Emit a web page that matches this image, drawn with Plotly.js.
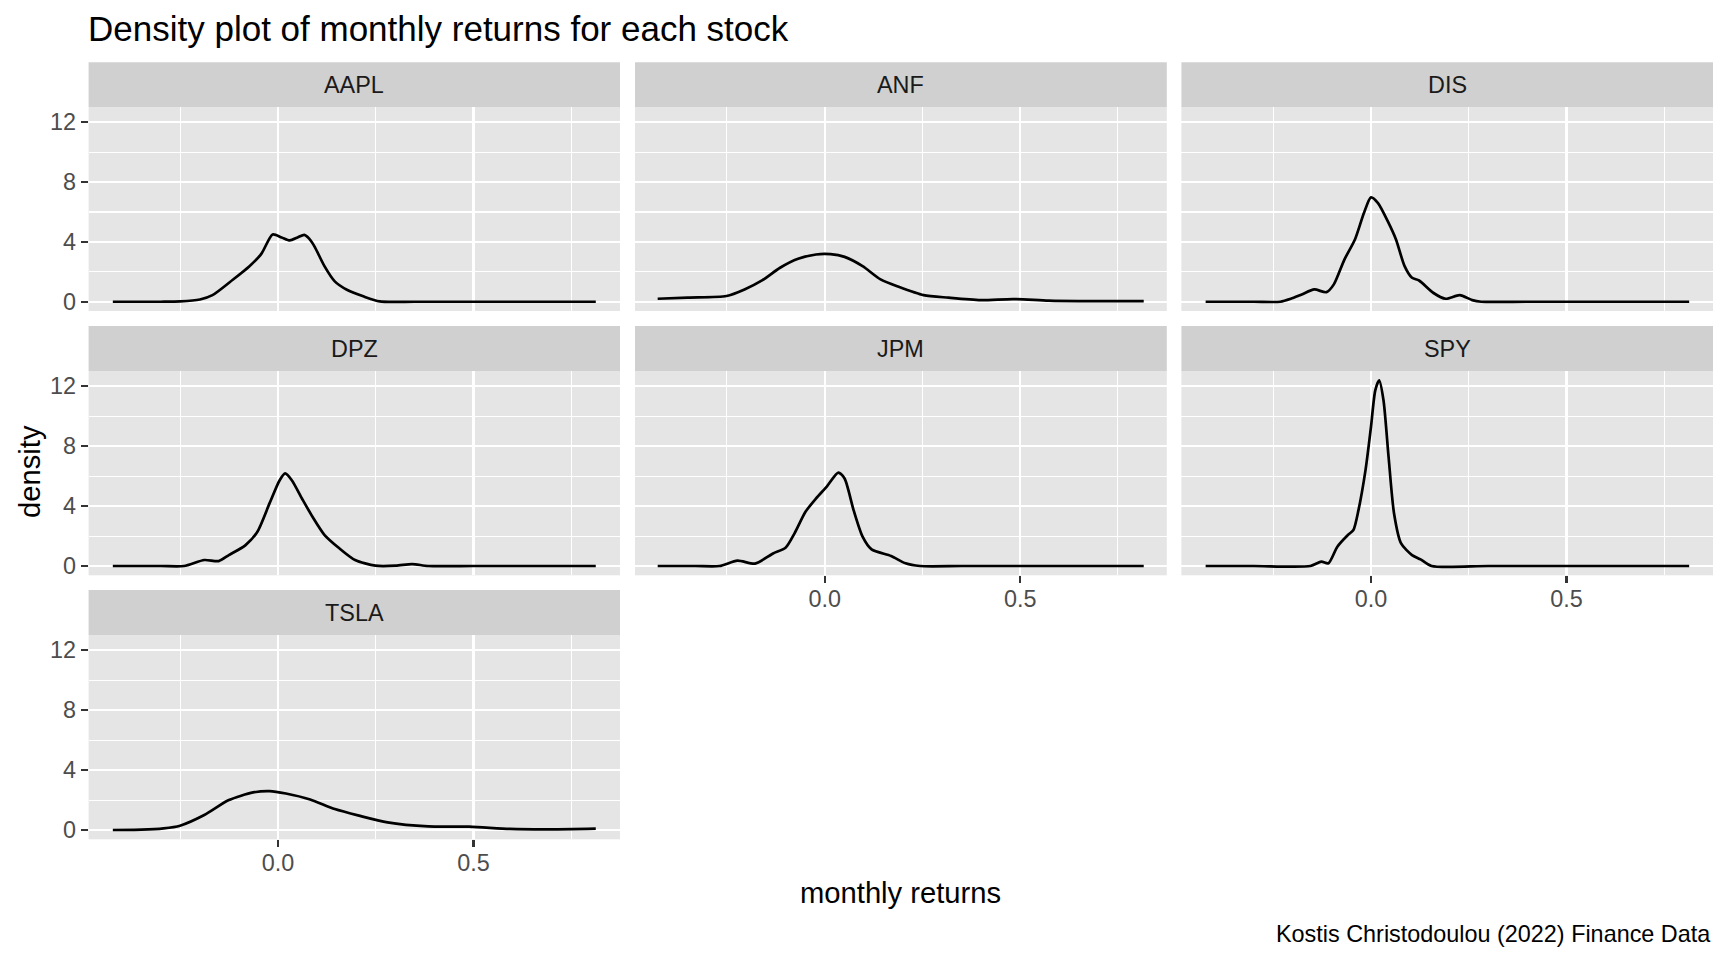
<!DOCTYPE html>
<html>
<head>
<meta charset="utf-8">
<script src="https://cdn.plot.ly/plotly-3.0.1.min.js"></script>
<style>html,body{margin:0;padding:0;background:#fff;}#chart{width:1728px;height:960px;}</style>
</head>
<body>
<div id="chart"></div>
<script>
// ---- data ----
const stocks = ["AAPL", "ANF", "DIS", "DPZ", "JPM", "SPY", "TSLA"];

const aaplX = [-0.423, -0.30, -0.25, -0.20, -0.168, -0.116, -0.074, -0.043, -0.014, 0.009, 0.030, 0.050, 0.067, 0.080, 0.093, 0.119, 0.145, 0.176, 0.218, 0.260, 0.35, 0.50, 0.65, 0.813];
const aaplY = [0, 0, 0.02, 0.15, 0.44, 1.47, 2.36, 3.2, 4.5, 4.3, 4.1, 4.3, 4.47, 4.2, 3.7, 2.36, 1.36, 0.8, 0.36, 0.02, 0, 0, 0, 0];

const anfX = [-0.427, -0.35, -0.251, -0.205, -0.159, -0.114, -0.068, -0.022, 0.015, 0.051, 0.097, 0.143, 0.189, 0.253, 0.317, 0.399, 0.482, 0.573, 0.665, 0.816];
const anfY = [0.2, 0.28, 0.38, 0.82, 1.44, 2.27, 2.87, 3.16, 3.18, 3.0, 2.38, 1.49, 1.0, 0.44, 0.27, 0.11, 0.18, 0.07, 0.04, 0.04];

const disX = [-0.423, -0.30, -0.232, -0.205, -0.177, -0.145, -0.114, -0.095, -0.068, -0.041, -0.018, 0.0, 0.018, 0.045, 0.064, 0.086, 0.105, 0.123, 0.159, 0.191, 0.227, 0.259, 0.282, 0.40, 0.60, 0.814];
const disY = [0, 0, 0, 0.2, 0.49, 0.82, 0.64, 1.16, 2.82, 4.16, 5.93, 6.98, 6.6, 5.27, 4.16, 2.38, 1.6, 1.42, 0.6, 0.2, 0.44, 0.11, 0, 0, 0, 0];

const dpzX = [-0.423, -0.30, -0.241, -0.189, -0.152, -0.126, -0.084, -0.053, -0.022, 0.004, 0.018, 0.035, 0.061, 0.088, 0.119, 0.155, 0.197, 0.249, 0.301, 0.343, 0.384, 0.50, 0.65, 0.813];
const dpzY = [0, 0, 0, 0.4, 0.33, 0.73, 1.38, 2.29, 4.18, 5.73, 6.18, 5.73, 4.51, 3.29, 2.07, 1.22, 0.4, 0.02, 0.02, 0.13, 0, 0, 0, 0];

const jpmX = [-0.427, -0.33, -0.269, -0.223, -0.178, -0.132, -0.100, -0.077, -0.049, -0.022, 0.005, 0.035, 0.051, 0.074, 0.097, 0.120, 0.170, 0.207, 0.244, 0.35, 0.50, 0.65, 0.816];
const jpmY = [0, 0, 0, 0.36, 0.16, 0.84, 1.22, 2.18, 3.62, 4.51, 5.29, 6.24, 5.84, 3.73, 1.96, 1.11, 0.67, 0.18, 0, 0, 0, 0, 0];

const spyX = [-0.423, -0.30, -0.155, -0.127, -0.109, -0.086, -0.059, -0.045, -0.032, -0.014, 0.0, 0.011, 0.021, 0.032, 0.045, 0.059, 0.077, 0.105, 0.127, 0.155, 0.30, 0.50, 0.65, 0.814];
const spyY = [0, 0, 0, 0.29, 0.18, 1.29, 2.07, 2.4, 3.73, 6.4, 9.29, 11.73, 12.4, 11.07, 7.29, 3.51, 1.51, 0.73, 0.44, 0, 0, 0, 0, 0];

const tslaX = [-0.423, -0.35, -0.293, -0.251, -0.189, -0.126, -0.064, -0.022, 0.020, 0.082, 0.145, 0.207, 0.280, 0.384, 0.489, 0.593, 0.697, 0.813];
const tslaY = [0, 0.02, 0.11, 0.29, 1.0, 2.0, 2.51, 2.6, 2.44, 2.04, 1.4, 0.96, 0.51, 0.24, 0.22, 0.07, 0.04, 0.09];

const seriesX = [aaplX, anfX, disX, dpzX, jpmX, spyX, tslaX];
const seriesY = [aaplY, anfY, disY, dpzY, jpmY, spyY, tslaY];

const xTickVals = [0, 0.5];
const xTickText = ["0.0", "0.5"];
const yTickVals = [0, 4, 8, 12];

const titleText = "Density plot of monthly returns for each stock";
const xTitle = "monthly returns";
const yTitle = "density";
const captionText = "Kostis Christodoulou (2022) Finance Data";

// ---- layout geometry (pixels) ----
const W = 1728, H = 960;
const FONT = "Liberation Sans, Arial, Helvetica, sans-serif";
const cols = [[88.6, 620], [635, 1166.8], [1181.4, 1713]];
const rows = [ {strip: 62.3, top: 107, bottom: 311},
               {strip: 326, top: 371, bottom: 575.3},
               {strip: 590, top: 635, bottom: 839.3} ];
const px = v => v / W;
const py = v => 1 - v / H;
const SMALL = 23.4, MID = 29.2, BIG = 35;

const traces = [];
const layout = {
  width: W, height: H,
  margin: {l: 0, r: 0, t: 0, b: 0},
  paper_bgcolor: "#ffffff",
  plot_bgcolor: "#E5E5E5",
  showlegend: false,
  font: {family: FONT, color: "#4D4D4D"},
  shapes: [],
  annotations: []
};

stocks.forEach((name, i) => {
  const r = Math.floor(i / 3), c = i % 3;
  const n = i + 1;
  const xa = "x" + (n === 1 ? "" : n), ya = "y" + (n === 1 ? "" : n);
  const showX = (r === 2) || (r === 1 && c > 0);
  const showY = (c === 0);
  traces.push({
    x: seriesX[i], y: seriesY[i], xaxis: xa, yaxis: ya,
    type: "scatter", mode: "lines",
    line: {color: "#000000", width: 2.7, shape: "spline", smoothing: 0.7},
    hoverinfo: "skip"
  });
  layout["xaxis" + (n === 1 ? "" : n)] = {
    domain: [px(cols[c][0]), px(cols[c][1])],
    anchor: ya, range: [-0.485, 0.875],
    tickvals: xTickVals, ticktext: xTickText,
    showticklabels: showX, ticks: showX ? "outside" : "",
    ticklen: 7, tickwidth: 2.2, tickcolor: "#333333",
    ticklabelstandoff: -4,
    tickfont: {size: SMALL, color: "#4D4D4D", family: FONT},
    showgrid: true, gridcolor: "#FFFFFF", gridwidth: 2.2,
    minor: {tickvals: [-0.25, 0.25, 0.75], showgrid: true, gridcolor: "#FFFFFF", gridwidth: 1.1},
    zeroline: false, showline: false, fixedrange: true
  };
  layout["yaxis" + (n === 1 ? "" : n)] = {
    domain: [py(rows[r].bottom), py(rows[r].top)],
    anchor: xa, range: [-0.62, 13.02],
    tickvals: yTickVals,
    showticklabels: showY, ticks: showY ? "outside" : "",
    ticklen: 7, tickwidth: 2.2, tickcolor: "#333333",
    tickfont: {size: SMALL, color: "#4D4D4D", family: FONT},
    showgrid: true, gridcolor: "#FFFFFF", gridwidth: 2.2,
    minor: {tickvals: [2, 6, 10], showgrid: true, gridcolor: "#FFFFFF", gridwidth: 1.1},
    zeroline: false, showline: false, fixedrange: true
  };
  // strip
  layout.shapes.push({
    type: "rect", xref: "paper", yref: "paper", layer: "below",
    x0: px(cols[c][0]), x1: px(cols[c][1]),
    y0: py(rows[r].top), y1: py(rows[r].strip),
    fillcolor: "#D0D0D0", line: {width: 0}
  });
  layout.annotations.push({
    xref: "paper", yref: "paper", showarrow: false,
    x: px((cols[c][0] + cols[c][1]) / 2), y: py((rows[r].strip + rows[r].top) / 2),
    xanchor: "center", yanchor: "middle",
    text: name, font: {size: SMALL, color: "#1A1A1A", family: FONT}
  });
});

// titles
layout.annotations.push({
  xref: "paper", yref: "paper", showarrow: false,
  x: px(86), y: py(29), xanchor: "left", yanchor: "middle",
  text: titleText, font: {size: BIG, color: "#000000", family: FONT}
});
layout.annotations.push({
  xref: "paper", yref: "paper", showarrow: false,
  x: px(900.8), y: py(893), xanchor: "center", yanchor: "middle",
  text: xTitle, font: {size: MID, color: "#000000", family: FONT}
});
layout.annotations.push({
  xref: "paper", yref: "paper", showarrow: false,
  x: px(30), y: py(472), xanchor: "center", yanchor: "middle", textangle: -90,
  text: yTitle, font: {size: MID, color: "#000000", family: FONT}
});
layout.annotations.push({
  xref: "paper", yref: "paper", showarrow: false,
  x: px(1713), y: py(934), xanchor: "right", yanchor: "middle",
  text: captionText, font: {size: SMALL, color: "#000000", family: FONT}
});

Plotly.newPlot("chart", traces, layout, {displayModeBar: false, staticPlot: true});
</script>
</body>
</html>
